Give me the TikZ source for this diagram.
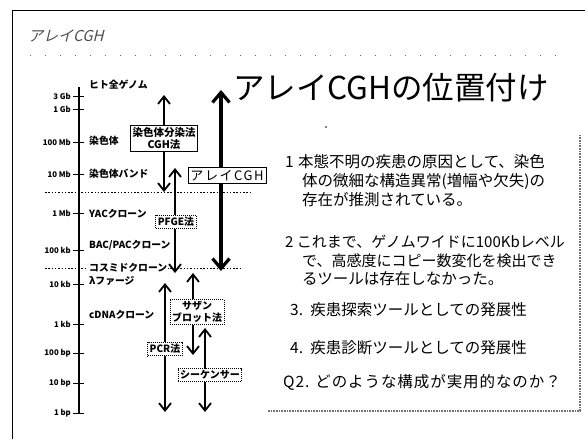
\documentclass[tikz,border=0pt]{standalone}
\usepackage{fontspec}
\setmainfont{Noto Sans CJK JP}
\newfontfamily\jpit[FakeSlant=0.25]{Noto Sans CJK JP}
\usetikzlibrary{arrows.meta}
\begin{document}
\begin{tikzpicture}[x=1pt,y=-1pt,
  scl/.style={font=\fontsize{7.8}{8}\selectfont\bfseries, anchor=east, inner sep=0pt},
  lab/.style={font=\fontsize{9.8}{10}\selectfont\bfseries, anchor=west, inner sep=1pt},
  solidbox/.style={draw, line width=0.9pt, fill=white, inner sep=2pt, align=center,
    font=\fontsize{10.5}{12}\selectfont\bfseries},
  dashbox/.style={draw, line width=0.9pt, dash pattern=on 1pt off 1pt, fill=white, inner sep=2pt,
    align=center, font=\fontsize{10}{12}\selectfont\bfseries},
  arr/.style={line width=1.8pt, {Straight Barb[length=7.5pt,width=12pt]}-{Straight Barb[length=7.5pt,width=12pt]}},
  bigarr/.style={line width=3.2pt, {Straight Barb[length=10pt,width=17pt]}-{Straight Barb[length=10pt,width=17pt]}},
  item/.style={font=\fontsize{15.5}{19}\selectfont, anchor=west, inner sep=0pt},
  sep/.style={line width=0.8pt, dash pattern=on 1.5pt off 1.8pt},
]
\useasboundingbox (0,0) rectangle (585,439);
% frame
\coordinate (fBL) at (12,439);
\coordinate (fTL) at (12,10);
\coordinate (fTR) at (585,10);
\draw[line width=0.8pt] (fBL) -- (fTL) -- (fTR);
% header
\node[anchor=west, inner sep=0pt, text=black!70, font=\jpit\fontsize{15}{15}\selectfont] (hdr) at (28,36) {アレイCGH};
\coordinate (hl1) at (30,55);
\coordinate (hl2) at (560,55);
\draw[black!60, line width=1pt, dash pattern=on 1pt off 14pt] (hl1) -- (hl2);
% title
\node[anchor=west, inner sep=0pt, font=\fontsize{31.5}{32}\selectfont] (title) at (233,88) {アレイCGHの位置付け};
\fill (326,127) circle (0.9);
% axis
\coordinate (axT) at (79,87);
\coordinate (axB) at (79,414);
\draw[line width=2.6pt] (axT) -- (axB);
\foreach \y/\t in {96/3 Gb,109/1 Gb,142/100 Mb,174/10 Mb,213/1 Mb,250/100 kb,284/10 kb,324/1 kb,353/100 bp,383/10 bp,413/1 bp}{
  \draw[line width=0.7pt] (73,\y) -- (84,\y);
  \node[scl] at (71,\y) {\t};
}
% separators
\coordinate (s1a) at (45,192);
\coordinate (s1b) at (250,192);
\coordinate (s2a) at (45,268);
\coordinate (s2b) at (240,268);
\draw[sep] (s1a) -- (s1b);
\draw[sep] (s2a) -- (s2b);
% right labels
\node[lab] (l1) at (88,85) {ヒト全ゲノム};
\node[lab] (l2) at (88,141) {染色体};
\node[lab] (l3) at (88,174) {染色体バンド};
\node[lab] (l4) at (88,214) {YACクローン};
\node[lab] (l5) at (88,245) {BAC/PACクローン};
\node[lab, fill=white] (l6) at (88,268) {コスミドクローン};
\node[lab] (l7) at (88,281) {λファージ};
\node[lab] (l8) at (88,315) {cDNAクローン};
% arrow A
\coordinate (aT) at (164,95);
\coordinate (aB) at (164,192);
\draw[arr] (aT) -- (aB);
\node[solidbox] (boxA) at (164,138) {染色体分染法\\CGH法};
% arrow B
\coordinate (bT) at (175,168);
\coordinate (bB) at (175,273);
\draw[arr] (bT) -- (bB);
\node[dashbox] (boxB) at (176,222) {PFGE法};
% arrow C
\coordinate (cT) at (221,90);
\coordinate (cB) at (221,271);
\draw[bigarr] (cT) -- (cB);
\node[solidbox, font=\fontsize{13}{14}\selectfont\addfontfeature{LetterSpace=12}, inner sep=2.5pt] (boxC) at (227,175.5) {アレイCGH};
% arrow D
\coordinate (dT) at (165,283);
\coordinate (dB) at (165,412);
\draw[arr] (dT) -- (dB);
\node[dashbox] (boxD) at (165,349) {PCR法};
% arrow E
\coordinate (eT) at (193,273);
\coordinate (eB) at (193,355);
\draw[arr] (eT) -- (eB);
\node[dashbox] (boxE) at (197,312) {サザン\\ブロット法};
% arrow F
\coordinate (fT) at (205,328);
\coordinate (fB) at (205,412);
\draw[arr] (fT) -- (fB);
\node[dashbox] (boxF) at (210,375) {シーケンサー};
% text panel
\coordinate (pT) at (580,135);
\coordinate (pC) at (580,411);
\coordinate (pL) at (268,411);
\draw[black!55, line width=1.2pt, dash pattern=on 1pt off 0.6pt] (pT) -- (pC) -- (pL);
\node[item] (n1) at (285,162) {1};
\node[item] (t1a) at (298,162) {本態不明の疾患の原因として、染色};
\node[item] (t1b) at (302,181) {体の微細な構造異常(増幅や欠失)の};
\node[item] (t1c) at (302,200) {存在が推測されている。};
\node[item, font=\fontsize{15}{19}\selectfont] (t2a) at (285,242) {2 これまで、ゲノムワイドに100Kbレベル};
\node[item, font=\fontsize{15}{19}\selectfont] (t2b) at (302,261) {で、高感度にコピー数変化を検出でき};
\node[item] (t2c) at (302,279) {るツールは存在しなかった。};
\node[item] (t3) at (290,310) {3.\, 疾患探索ツールとしての発展性};
\node[item] (t4) at (290,348) {4.\, 疾患診断ツールとしての発展性};
\node[item, font=\fontsize{15.5}{19}\selectfont\addfontfeature{LetterSpace=6}] (t5) at (283,382) {Q2. どのような構成が実用的なのか？};
\end{tikzpicture}
\end{document}
